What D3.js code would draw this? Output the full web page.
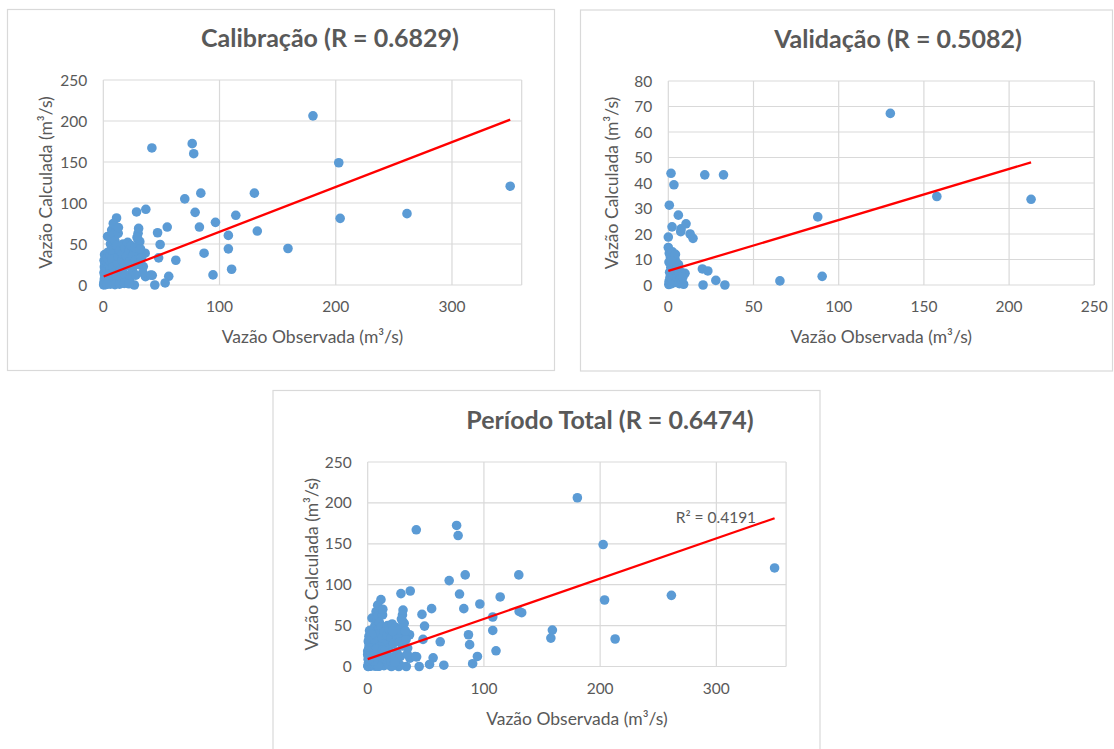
<!DOCTYPE html>
<html lang="pt">
<head>
<meta charset="UTF-8">
<title>Vazão Observada x Calculada</title>
<script src="https://d3js.org/d3.v7.min.js"></script>
<style>
    body { margin: 0; background: #fff; }
    svg text { font-family: Lato, "Open Sans", sans-serif; fill: #595959; }
    .tick-label { font-size: 15.5px; }
    .axis-title { font-size: 17.5px; }
    .chart-title { font-size: 25px; font-weight: bold; }
</style>
</head>
<body>
<svg id="chart" width="1114" height="749"></svg>
<script>
// calibration period: observed vs calculated flow (m3/s)
let calObs = [180.4, 202.6, 350.1, 203.8, 261.3, 158.9, 130, 132.5, 114, 107.6, 107.6, 110.4, 94.4, 86.7, 96.5,
    82.7, 79, 83.9, 70.1, 76.5, 77.8, 41.8, 36.6, 28.6, 55, 46.7, 48.9, 47.6, 62.4, 56.3, 53.2, 44.3, 42.1, 26.7,
    30.4, 30.1, 31.7, 36, 34.4, 36.3, 11.4, 3.7, 29.9, 31.4, 40.8,
    0.5, 0.8, 1, 1.2, 0.6, 1.5, 0.9, 1.3, 0.7, 1.8, 1.1, 2, 2.5, 2.2, 3, 2.8, 3.5, 2.6, 3.2, 4, 4.5, 5, 4.8, 5.5,
    6, 5.2, 6.5, 5.8, 7, 6.2, 7.2, 8.6, 8, 9, 10, 9.5, 8.5, 7.5, 8.2, 9.2, 7.8, 10.5, 11, 12, 12.5, 11.5, 12.8,
    13, 14, 14.5, 15, 16, 17, 16.5, 18, 18.5, 19, 20, 21, 22, 22.5, 23, 24, 25, 25.5, 27, 27.5, 28, 29, 30, 32,
    33, 34, 2, 6, 10, 14, 18, 22, 0.3, 3]
let calSim = [206.3, 149.1, 120.5, 81.3, 87, 44.5, 112, 65.8, 85, 60.5, 44.1, 19.2, 12.3, 38.8, 76.4,
    70.7, 88.6, 112, 105, 172.4, 160.1, 167.1, 92.3, 89.1, 70.7, 63.7, 49.4, 33.1, 30.2, 10.6, 2.5, 0, 11.8, 0,
    69, 55, 39.6, 38.8, 22.5, 10.2, 81.7, 59.2, 63, 52.8, 12.2,
    2, 5, 8, 12, 15, 18, 22, 26, 30, 34, 37, 3, 7, 11, 15, 20, 25, 29, 33, 40, 2, 6, 10, 14,
    19, 24, 28, 36, 44, 50, 67, 75, 57, 62, 54, 45, 38, 31, 22, 15, 8, 4, 12, 27, 35, 48, 63,
    70, 42, 18, 8, 30, 50, 38, 22, 45, 12, 35, 52, 28, 42, 8, 48, 18, 36, 30, 45, 12, 58, 25, 44,
    33, 15, 0.5, 1, 0.5, 1, 2, 1.5, 0.2, 1]

// validation period
let valObs = [130.3, 157.6, 212.9, 87.7, 90.3, 65.5, 33.2, 27.9, 20.4, 20, 23.2, 21.4, 32.4, 1.6, 3.3, 0.6,
    5.9, 2.2, 7.5, 10.4, 7.3, 12.8, 14.5, 0, 0, 9.8, 3.3,
    0.3, 0.5, 1, 0.8, 1.5, 0.4, 1.2, 0.6, 2, 2.5, 3, 2.8, 3.5, 4, 2.4, 4.5, 5, 5.5, 6, 4.2, 6.5, 7, 7.5, 8,
    8.5, 9, 5, 1.8]
let valSim = [67.3, 34.7, 33.6, 26.7, 3.4, 1.6, 0, 1.8, 0, 6.3, 5.5, 43.2, 43.2, 43.8, 39.3, 31.3,
    27.4, 22.8, 22, 24, 20.9, 20, 18.3, 18.8, 14.7, 4.6, 11.8,
    0.2, 1.5, 3, 5, 7, 9, 11, 12.5, 0.5, 2, 4, 6, 8, 10, 13, 1, 3, 5.5, 8, 12, 0.5, 2.5, 5, 1,
    3, 0.3, 6.5, 9.5]

// linear trend lines: calibration, validation, total
let trendSlope = [0.547, 0.200, 0.492]
let trendIntercept = [10.2, 5.5, 9.0]

let titles = ["Calibração (R = 0.6829)", "Validação (R = 0.5082)", "Período Total (R = 0.6474)"]
let xTitle = "Vazão Observada (m³/s)"
let yTitle = "Vazão Calculada (m³/s)"
let r2Label = "R² = 0.4191"

let xDomains = [[0, 360], [0, 250], [0, 360]]
let yDomains = [[0, 250], [0, 80], [0, 250]]
let xSteps = [100, 50, 100]
let ySteps = [50, 10, 50]

let totalObs = calObs.concat(valObs)
let totalSim = calSim.concat(valSim)

let series = [
    {obs: calObs, sim: calSim},
    {obs: valObs, sim: valSim},
    {obs: totalObs, sim: totalSim}
]

// placement of each chart on the page
let panels = [
    {frame: [7.5, 9.5, 547, 361], plot: [103.3, 80, 418.4, 205], titleX: 330, yTitleX: 46},
    {frame: [580.5, 10, 532, 361], plot: [668.3, 81, 426, 204], titleX: 898, yTitleX: 612},
    {frame: [273, 390.5, 547, 380], plot: [367.7, 462, 418.4, 204.5], titleX: 610, yTitleX: 312}
]

let svg = d3.select("#chart")

panels.forEach((p, i) => {
    let [fx, fy, fw, fh] = p.frame
    let [px, py, pw, ph] = p.plot

    svg.append("rect")
        .attr("x", fx).attr("y", fy)
        .attr("width", fw).attr("height", fh)
        .attr("fill", "#fff")
        .attr("stroke", "#d9d9d9")
        .attr("stroke-width", 1.2)

    let x = d3.scaleLinear().domain(xDomains[i]).range([px, px + pw])
    let y = d3.scaleLinear().domain(yDomains[i]).range([py + ph, py])

    let xTicks = d3.range(xDomains[i][0], xDomains[i][1] + 0.001, xSteps[i])
    let yTicks = d3.range(yDomains[i][0], yDomains[i][1] + 0.001, ySteps[i])

    let g = svg.append("g")

    // grid
    g.selectAll(".hgrid").data(yTicks).enter().append("line")
        .attr("x1", px).attr("x2", px + pw)
        .attr("y1", d => y(d)).attr("y2", d => y(d))
        .attr("stroke", "#d9d9d9").attr("stroke-width", 1.2)
    g.selectAll(".vgrid").data(xTicks).enter().append("line")
        .attr("x1", d => x(d)).attr("x2", d => x(d))
        .attr("y1", py).attr("y2", py + ph)
        .attr("stroke", "#d9d9d9").attr("stroke-width", 1.2)
    g.append("line")
        .attr("x1", px + pw).attr("x2", px + pw)
        .attr("y1", py).attr("y2", py + ph)
        .attr("stroke", "#d9d9d9").attr("stroke-width", 1.2)

    // tick labels
    g.selectAll(".xl").data(xTicks).enter().append("text")
        .attr("class", "tick-label")
        .attr("x", d => x(d)).attr("y", py + ph + 27)
        .attr("text-anchor", "middle")
        .text(d => d)
    g.selectAll(".yl").data(yTicks).enter().append("text")
        .attr("class", "tick-label")
        .attr("x", px - 16).attr("y", d => y(d) + 5.5)
        .attr("text-anchor", "end")
        .text(d => d)

    // points
    let s = series[i]
    g.selectAll("circle").data(s.obs).enter().append("circle")
        .attr("cx", d => x(d))
        .attr("cy", (d, j) => y(s.sim[j]))
        .attr("r", 4.8)
        .attr("fill", "#5b9bd5")

    // trend line
    let xr = d3.extent(s.obs)
    let trend = xr.map(v => [v, trendSlope[i] * v + trendIntercept[i]])
    g.append("path")
        .attr("d", d3.line().x(d => x(d[0])).y(d => y(d[1]))(trend))
        .attr("stroke", "#ff0000")
        .attr("stroke-width", 2.3)
        .attr("fill", "none")

    // titles
    g.append("text")
        .attr("class", "chart-title")
        .attr("x", p.titleX).attr("y", py - 33)
        .attr("text-anchor", "middle")
        .text(titles[i])
    g.append("text")
        .attr("class", "axis-title")
        .attr("x", px + pw / 2).attr("y", py + ph + 58)
        .attr("text-anchor", "middle")
        .text(xTitle)
    g.append("text")
        .attr("class", "axis-title")
        .attr("transform", `translate(${p.yTitleX + 6},${py + ph / 2}) rotate(-90)`)
        .attr("text-anchor", "middle")
        .text(yTitle)

    if (i === 2) {
        g.append("text")
            .attr("class", "tick-label")
            .attr("x", x(265)).attr("y", y(175))
            .text(r2Label)
    }
})
</script>
</body>
</html>
